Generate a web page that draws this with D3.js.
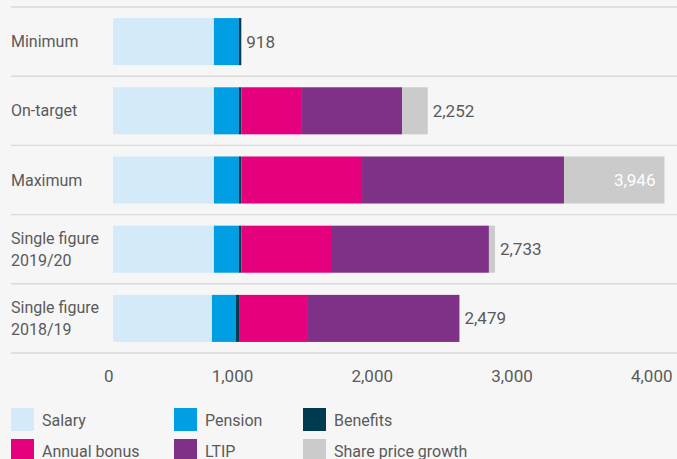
<!DOCTYPE html>
<html>
<head>
<meta charset="utf-8">
<script src="https://cdn.jsdelivr.net/npm/d3@7"></script>
<style>
  html, body { margin: 0; padding: 0; background: #f6f6f6; }
  svg { display: block; font-family: Roboto, "Noto Sans", sans-serif; }
</style>
</head>
<body>
<div id="chart"></div>
<script>
var width = 677;
var height = 459;

// scenarios (top to bottom)
var categories = ["Minimum", "On-target", "Maximum", "Single figure 2019/20", "Single figure 2018/19"];
var categoryLines = [["Minimum"], ["On-target"], ["Maximum"], ["Single figure", "2019/20"], ["Single figure", "2018/19"]];

// values in £000
var salary = [722, 722, 722, 722, 708];
var pension = [179, 179, 179, 179, 172];
var benefits = [17, 17, 17, 17, 22];
var annualBonus = [0, 434, 864, 642, 493];
var ltip = [0, 716, 1445, 1130, 1084];
var sharePriceGrowth = [0, 184, 719, 43, 0];

var seriesNames = ["Salary", "Pension", "Benefits", "Annual bonus", "LTIP", "Share price growth"];
var seriesColors = ["#d4eaf9", "#009fe3", "#003a4f", "#e5007d", "#7f3087", "#cbcbcb"];
var xTicks = [0, 1000, 2000, 3000, 4000];

var rows = categories.map(function(c, i) {
  return {
    category: c,
    "Salary": salary[i],
    "Pension": pension[i],
    "Benefits": benefits[i],
    "Annual bonus": annualBonus[i],
    "LTIP": ltip[i],
    "Share price growth": sharePriceGrowth[i]
  };
});

var svg = d3.select("#chart")
  .append("svg")
  .attr("width", width)
  .attr("height", height);

var x = d3.scaleLinear()
  .domain([0, 4000])
  .range([113, 672]);

var y = d3.scaleBand()
  .domain(categories)
  .range([7, 353])
  .paddingInner(0.32)
  .paddingOuter(0.16);

var color = d3.scaleOrdinal()
  .domain(seriesNames)
  .range(seriesColors);

// row separators
var step = y.step();
svg.append("g")
  .selectAll("line")
  .data(d3.range(categories.length + 1))
  .enter().append("line")
  .attr("x1", 11)
  .attr("x2", width)
  .attr("y1", function(d) { return 7 + d * step; })
  .attr("y2", function(d) { return 7 + d * step; })
  .attr("stroke", "#d9d9d9")
  .attr("stroke-width", 1.4);

var stacked = d3.stack().keys(seriesNames)(rows);

svg.append("g")
  .selectAll("g")
  .data(stacked)
  .enter().append("g")
  .attr("fill", function(d) { return color(d.key); })
  .selectAll("rect")
  .data(function(d) { return d; })
  .enter().append("rect")
  .attr("x", function(d) { return x(d[0]); })
  .attr("y", function(d) { return y(d.data.category); })
  .attr("width", function(d) { return Math.max(0, x(d[1]) - x(d[0])); })
  .attr("height", y.bandwidth());

// category labels
var catText = svg.append("g")
  .selectAll("text")
  .data(categories)
  .enter().append("text")
  .attr("x", 11)
  .attr("y", function(d) { return y(d) + y.bandwidth() / 2; })
  .attr("fill", "#5a5a5a")
  .style("font-size", "16px");

catText.each(function(d, i) {
  var lines = categoryLines[i];
  var t = d3.select(this);
  lines.forEach(function(line, j) {
    var off = lines.length === 1 ? 5.5 : (j === 0 ? -5.5 : 16.5);
    t.append("tspan")
      .attr("x", 11)
      .attr("y", y(d) + y.bandwidth() / 2 + off)
      .text(line);
  });
});

// totals
var fmt = d3.format(",");
svg.append("g")
  .selectAll("text")
  .data(rows)
  .enter().append("text")
  .each(function(d) {
    var total = d3.sum(seriesNames, function(k) { return d[k]; });
    var inside = x(total) > 600;
    d3.select(this)
      .attr("x", inside ? x(total) - 9 : x(total) + 5)
      .attr("text-anchor", inside ? "end" : "start")
      .attr("fill", inside ? "#ffffff" : "#5a5a5a")
      .text(fmt(total));
  })
  .attr("y", function(d) { return y(d.category) + y.bandwidth() / 2 + 6; })
  .style("font-size", "17px");

// x axis labels
var xAxis = d3.axisBottom(x)
  .tickValues(xTicks)
  .tickFormat(fmt)
  .tickSize(0)
  .tickPadding(0);

var axisG = svg.append("g")
  .attr("transform", "translate(0,382)")
  .call(xAxis);
axisG.select(".domain").remove();
axisG.selectAll("text")
  .attr("y", 0)
  .attr("dy", 0)
  .attr("text-anchor", "end")
  .attr("fill", "#5a5a5a")
  .style("font-family", "Roboto, sans-serif")
  .style("font-size", "17px");

// legend
var legendCols = [11, 174, 303];
var legendRows = [408, 439];
var legend = svg.append("g")
  .selectAll("g")
  .data(seriesNames)
  .enter().append("g")
  .attr("transform", function(d, i) {
    return "translate(" + legendCols[i % 3] + "," + legendRows[Math.floor(i / 3)] + ")";
  });

legend.append("rect")
  .attr("width", 23)
  .attr("height", 23)
  .attr("fill", function(d) { return color(d); });

legend.append("text")
  .attr("x", 31)
  .attr("y", 18)
  .attr("fill", "#5a5a5a")
  .style("font-size", "16px")
  .text(function(d) { return d; });
</script>
</body>
</html>
